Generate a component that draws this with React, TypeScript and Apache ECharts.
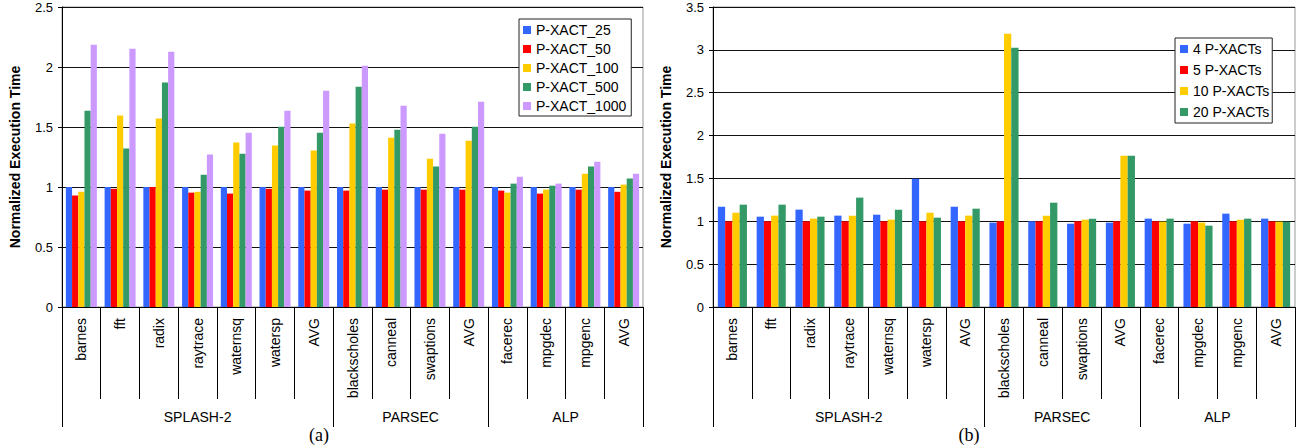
import React, { useEffect, useRef } from "react";
import * as echarts from "echarts";

const categories = ["barnes", "fft", "radix", "raytrace", "waternsq", "watersp", "AVG", "blackscholes", "canneal", "swaptions", "AVG", "facerec", "mpgdec", "mpgenc", "AVG"];
const groupNames = ["SPLASH-2", "PARSEC", "ALP"];
const groupSizes = [7, 4, 4];

// chart (a)
const seriesA = ["P-XACT_25", "P-XACT_50", "P-XACT_100", "P-XACT_500", "P-XACT_1000"];
const pxact25 = [1.0, 1.0, 1.0, 1.0, 1.0, 1.0, 1.0, 1.0, 1.0, 1.0, 1.0, 1.0, 1.0, 1.0, 1.0];
const pxact50 = [0.93, 0.985, 1.0, 0.953, 0.945, 0.985, 0.97, 0.97, 0.978, 0.978, 0.978, 0.97, 0.945, 0.978, 0.96];
const pxact100 = [0.96, 1.595, 1.57, 0.96, 1.37, 1.345, 1.305, 1.53, 1.41, 1.235, 1.385, 0.953, 0.978, 1.11, 1.02];
const pxact500 = [1.636, 1.32, 1.87, 1.103, 1.278, 1.503, 1.453, 1.836, 1.478, 1.17, 1.503, 1.028, 1.011, 1.17, 1.07];
const pxact1000 = [2.186, 2.153, 2.128, 1.27, 1.453, 1.636, 1.803, 2.011, 1.678, 1.444, 1.711, 1.086, 1.028, 1.21, 1.11];

// chart (b)
const seriesB = ["4 P-XACTs", "5 P-XACTs", "10 P-XACTs", "20 P-XACTs"];
const px4 = [1.17, 1.054, 1.136, 1.066, 1.077, 1.497, 1.17, 0.984, 1.0, 0.972, 0.984, 1.031, 0.972, 1.089, 1.031];
const px5 = [1.0, 1.0, 1.0, 1.0, 1.0, 1.0, 1.0, 1.0, 1.0, 1.0, 1.0, 1.0, 1.0, 1.0, 1.0];
const px10 = [1.1, 1.066, 1.031, 1.066, 1.019, 1.1, 1.066, 3.189, 1.066, 1.019, 1.766, 0.996, 0.984, 1.019, 0.996];
const px20 = [1.194, 1.194, 1.054, 1.276, 1.136, 1.042, 1.147, 3.026, 1.217, 1.031, 1.766, 1.031, 0.949, 1.031, 0.996];

const colors = ["#3366FF", "#FF0000", "#FFCC00", "#339966", "#CC99FF"];
const FONT = "'Liberation Sans', Arial, sans-serif";

export default function App() {
  const ref = useRef<HTMLDivElement>(null);
  useEffect(() => {
    document.body.style.margin = "0";
    const chart = echarts.init(ref.current!, null, { renderer: "svg" });

    const boundaries: number[] = [0];
    const centers: number[] = [];
    let acc = 0;
    groupSizes.forEach((s) => {
      centers.push(acc + s / 2);
      acc += s;
      boundaries.push(acc);
    });
    const total = categories.length;

    const grids = [
      { left: 62, top: 7, width: 581, height: 300 },
      { left: 713, top: 7, width: 582, height: 300 },
    ];

    const xAxes: any[] = [];
    const yAxes: any[] = [];
    [0, 1].forEach((g) => {
      xAxes.push({
        type: "category",
        gridIndex: g,
        data: categories,
        position: "bottom",
        axisLine: { show: true, lineStyle: { color: "#000", width: 1 } },
        axisTick: { show: true, length: 92, lineStyle: { color: "#000" } },
        axisLabel: {
          interval: 0,
          rotate: 90,
          margin: 11,
          color: "#000",
          fontSize: 14,
          fontFamily: FONT,
        },
        splitLine: { show: false },
      });
      xAxes.push({
        type: "value",
        gridIndex: g,
        min: 0,
        max: total,
        position: "bottom",
        offset: 0,
        axisLine: { show: false },
        axisTick: { show: true, length: 120, customValues: boundaries, lineStyle: { color: "#000" } },
        axisLabel: {
          show: true,
          customValues: centers,
          margin: 103,
          color: "#000",
          fontSize: 14,
          fontFamily: FONT,
          formatter: (v: number) => {
            const i = centers.findIndex((c) => Math.abs(c - v) < 1e-6);
            return i >= 0 ? groupNames[i] : "";
          },
        },
        splitLine: { show: false },
      });
      yAxes.push({
        type: "value",
        gridIndex: g,
        min: 0,
        max: g === 0 ? 2.5 : 3.5,
        interval: 0.5,
        name: "Normalized Execution Time",
        nameLocation: "middle",
        nameGap: 40,
        nameTextStyle: { fontSize: 14, fontWeight: "bold", color: "#000", fontFamily: FONT },
        axisLine: { show: true, lineStyle: { color: "#000" } },
        axisTick: { show: true, length: 4, lineStyle: { color: "#000" } },
        axisLabel: { color: "#000", fontSize: 13, fontFamily: FONT, margin: 9 },
        splitLine: { show: true, lineStyle: { color: "#111", width: 1 } },
      });
    });

    const dataA = [pxact25, pxact50, pxact100, pxact500, pxact1000];
    const dataB = [px4, px5, px10, px20];
    const series: any[] = [];
    seriesA.forEach((n, i) => {
      series.push({
        type: "bar",
        name: n,
        xAxisIndex: 0,
        yAxisIndex: 0,
        data: dataA[i],
        barGap: "0%",
        barCategoryGap: "20%",
        itemStyle: { color: colors[i] },
      });
    });
    seriesB.forEach((n, i) => {
      series.push({
        type: "bar",
        name: n,
        xAxisIndex: 2,
        yAxisIndex: 1,
        data: dataB[i],
        barGap: "0%",
        barCategoryGap: "25%",
        itemStyle: { color: colors[i] },
      });
    });

    const legendCommon = {
      orient: "vertical",
      itemWidth: 8,
      itemHeight: 8,
      icon: "rect",
      backgroundColor: "#fff",
      borderColor: "#222",
      borderWidth: 1,
      borderRadius: 0,
      textStyle: { fontSize: 14, color: "#000", fontFamily: FONT, lineHeight: 14 },
    };

    chart.setOption({
      animation: false,
      grid: grids.map((g) => ({ ...g, show: true, borderColor: "#999", borderWidth: 1, backgroundColor: "transparent" })),
      xAxis: xAxes,
      yAxis: yAxes,
      legend: [
        { ...legendCommon, data: seriesA, left: 519, top: 19, itemGap: 5, padding: [4, 5, 3, 4] },
        { ...legendCommon, data: seriesB, left: 1175, top: 38, itemGap: 7, padding: [4, 3, 4, 5] },
      ],
      graphic: [
        { type: "text", x: 319, y: 435, style: { text: "(a)", font: "18px 'Liberation Serif', 'Times New Roman', serif", fill: "#000", align: "center", verticalAlign: "middle" } },
        { type: "text", x: 969, y: 435, style: { text: "(b)", font: "18px 'Liberation Serif', 'Times New Roman', serif", fill: "#000", align: "center", verticalAlign: "middle" } },
      ],
      series,
    });
    return () => chart.dispose();
  }, []);
  return <div ref={ref} style={{ width: 1305, height: 448 }} />;
}
